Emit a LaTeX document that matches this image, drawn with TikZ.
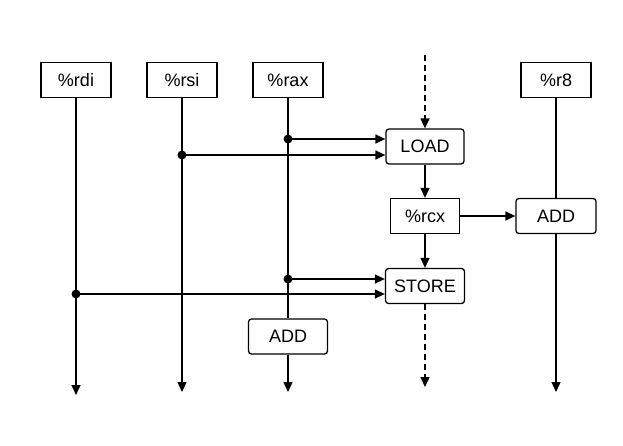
\documentclass[tikz,border=0pt]{standalone}
\usepackage{fontspec}
\setmainfont{Liberation Sans}
\usetikzlibrary{arrows.meta,calc}
\begin{document}
\begin{tikzpicture}[x=1pt,y=-1pt,
  line width=1.3pt,
  reg/.style={draw,fill=white,minimum height=35pt,inner sep=0pt,font=\fontsize{18}{20}\selectfont},
  op/.style={reg,rounded corners=3pt},
  arr/.style={-{Triangle[length=10pt,width=9pt]}},
  dsh/.style={dash pattern=on 6pt off 4pt},
  dot/.style={circle,fill=black,inner sep=0pt,minimum size=9pt}]
\useasboundingbox[fill=white] (0,0) rectangle (623,445);
% register boxes
\node[reg,minimum width=70pt] (rdi) at (76,80) {\%rdi};
\node[reg,minimum width=70pt] (rsi) at (182,80) {\%rsi};
\node[reg,minimum width=70pt] (rax) at (288,80) {\%rax};
\node[reg,minimum width=70pt] (r8) at (556,80) {\%r8};
\node[op,minimum width=78pt] (load) at (425,146.5) {LOAD};
\node[reg,minimum width=69pt] (rcx) at (425,216) {\%rcx};
\node[op,minimum width=80pt] (addr) at (556,216) {ADD};
\node[op,minimum width=79pt] (store) at (425,286) {STORE};
\node[op,minimum width=79pt] (addl) at (288,336.5) {ADD};
% free ends
\coordinate (top) at (425,55);
\coordinate (e1) at (76,395);
\coordinate (e2) at (182,392);
\coordinate (e3) at (288,392);
\coordinate (e4) at (425,387);
\coordinate (e5) at (556,392);
% junction points
\coordinate (j1) at (288,139);
\coordinate (j2) at (182,155);
\coordinate (j3) at (288,279);
\coordinate (j4) at (76,294);
% vertical lines
\draw[arr] (rdi) -- (e1);
\draw[arr] (rsi) -- (e2);
\draw (rax) -- (addl);
\draw[arr] (addl) -- (e3);
\draw (r8) -- (addr);
\draw[arr] (addr) -- (e5);
\draw[arr,dsh] (top) -- (load);
\draw[arr] (load) -- (rcx);
\draw[arr] (rcx) -- (store);
\draw[arr,dsh] (store) -- (e4);
\draw[arr] (rcx) -- (addr);
% feeds
\draw[arr] (j1) -- (j1 -| load.west);
\draw[arr] (j2) -- (j2 -| load.west);
\draw[arr] (j3) -- (j3 -| store.west);
\draw[arr] (j4) -- (j4 -| store.west);
\node[dot] (d1) at (j1) {};
\node[dot] (d2) at (j2) {};
\node[dot] (d3) at (j3) {};
\node[dot] (d4) at (j4) {};
\end{tikzpicture}
\end{document}
